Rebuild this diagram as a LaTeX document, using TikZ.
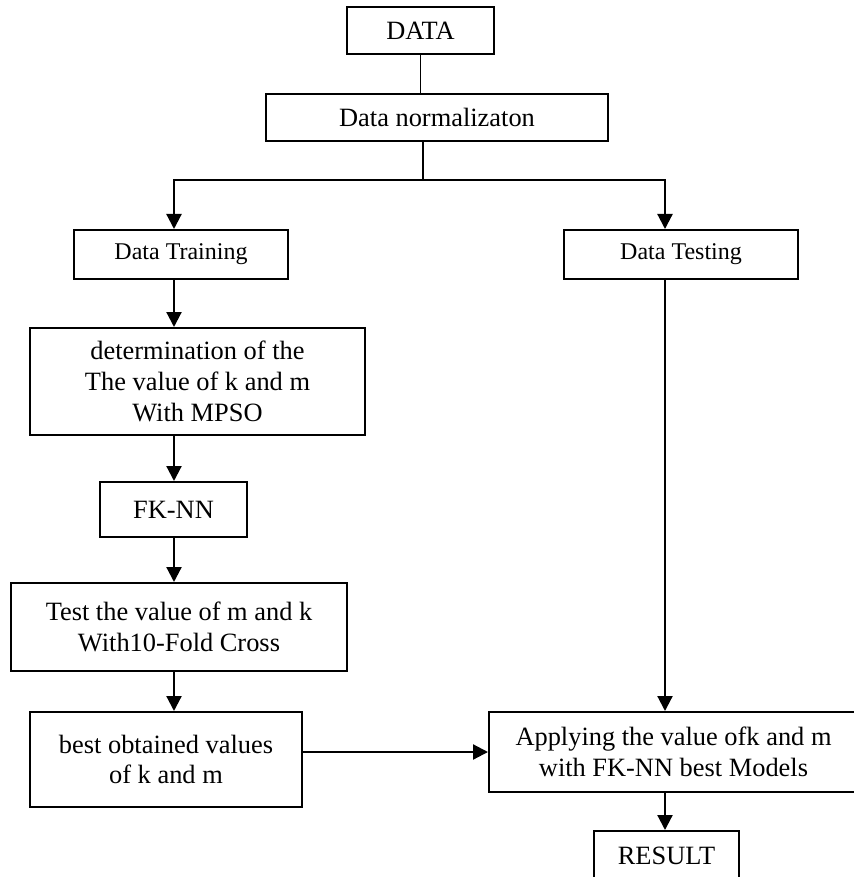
\documentclass[tikz,border=0pt]{standalone}
\usepackage{fontspec}
\setmainfont{Liberation Serif}
\usetikzlibrary{arrows.meta}

\begin{document}
\begin{tikzpicture}[
    x=0.5pt, y=-0.5pt,
    every node/.style={align=center, inner sep=0pt, font=\fontsize{13.2}{15.3}\selectfont},
    box/.style={draw, line width=1pt},
    small/.style={font=\fontsize{12}{14}\selectfont},
    link/.style={line width=0.7pt},
    arrow/.style={-{Triangle[length=7.5pt, width=7.5pt]}, line width=1.1pt}
]
    \useasboundingbox (0,0) rectangle (854,877);

    % Nodes
    \node[box, minimum width=73.5pt, minimum height=23.5pt] (data) at (420.5,30.5) {DATA};
    \node[box, minimum width=171pt, minimum height=23.5pt] (norm) at (437,117.5) {Data normalizaton};

    \node[box, small, minimum width=107pt, minimum height=24.5pt] (train) at (181,254.5) {Data Training};
    \node[box, small, minimum width=117pt, minimum height=24.5pt] (test) at (681,254.5) {Data Testing};

    \node[box, minimum width=167.5pt, minimum height=53.5pt] (determ) at (197.5,381.5) {determination of the\\ The value of k and m\\ With MPSO};
    \node[box, minimum width=73.5pt, minimum height=27.5pt] (fknn) at (173.5,509.5) {FK-NN};
    \node[box, minimum width=168pt, minimum height=44pt] (cross) at (179,627) {Test the value of m and k\\ With10-Fold Cross};
    \node[box, minimum width=136pt, minimum height=47.5pt] (best) at (166,759.5) {best obtained values\\ of k and m};

    \node[box, minimum width=184.5pt, minimum height=40pt] (apply) at (673.5,752) {Applying the value ofk and m\\ with FK-NN best Models};
    \node[box, minimum width=72.5pt, minimum height=25pt] (result) at (666.5,856) {RESULT};

    % Columns of the arrows
    \coordinate (split) at (423,180);
    \coordinate (left) at (174,180);
    \coordinate (right) at (665,180);

    % Arrows
    \draw[link] (data.south) -- (norm.north -| data.south);
    \draw[link] (norm.south -| split) -- (split);
    \draw[arrow] (split) -| (train.north -| left);
    \draw[arrow] (split) -| (test.north -| right);

    \draw[arrow] (train.south -| left) -- (determ.north -| left);
    \draw[arrow] (determ.south -| left) -- (fknn.north -| left);
    \draw[arrow] (fknn.south -| left) -- (cross.north -| left);
    \draw[arrow] (cross.south -| left) -- (best.north -| left);

    \draw[arrow] (test.south -| right) -- (apply.north -| right);
    \draw[arrow] (best.east |- apply.west) -- (apply.west);
    \draw[arrow] (apply.south -| right) -- (result.north -| right);
\end{tikzpicture}
\end{document}
